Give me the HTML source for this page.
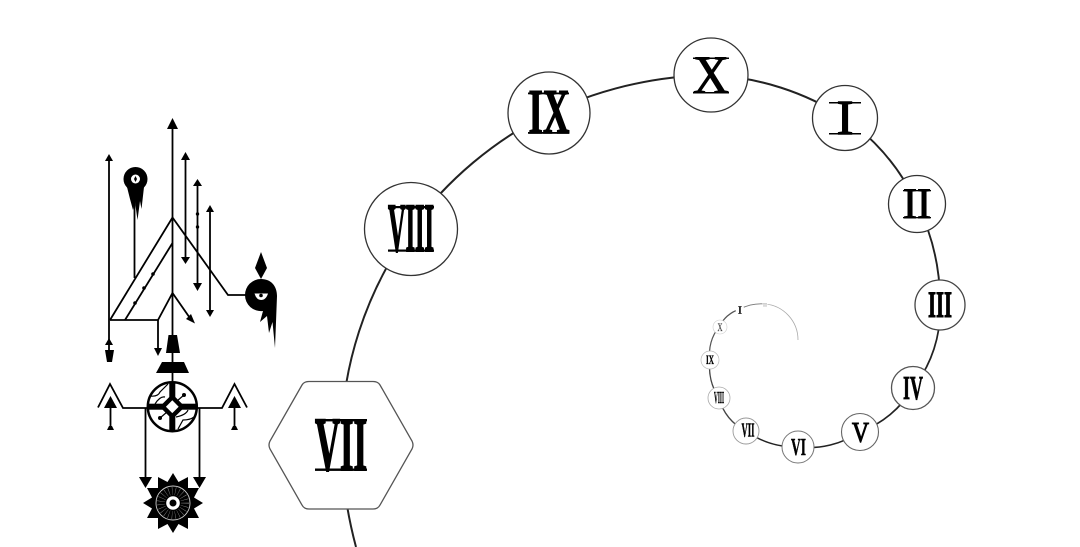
<!DOCTYPE html>
<html>
<head>
<meta charset="utf-8">
<style>
html,body{margin:0;padding:0;background:#fff}
svg{display:block;filter:blur(.35px)}
text{font-family:"Liberation Serif",serif;font-weight:700;text-anchor:middle;fill:#000;stroke:#000}
text.r{font-weight:400}
.n{fill:#fff;stroke:#333;stroke-width:1.3}
.s{fill:none;stroke:#222;stroke-linecap:butt}
.l{fill:none;stroke:#000;stroke-width:1.8}
.b{fill:#000}
</style>
</head>
<body>
<svg width="1080" height="547" viewBox="0 0 1080 547" xmlns="http://www.w3.org/2000/svg">
<rect width="1080" height="547" fill="#fff"/>

<!-- spiral -->
<g class="s">
<path stroke-width="2" d="M356 547 A450 450 0 0 1 341 445 A370 370 0 0 1 411 229"/>
<path stroke-width="2" d="M411 229 A380 380 0 0 1 549 113 A400 400 0 0 1 711 75 A270 270 0 0 1 845 118"/>
<path stroke-width="1.9" d="M845 118 A220 220 0 0 1 917 204 A220 220 0 0 1 940 305"/>
<path stroke-width="1.7" d="M940 305 A125 125 0 0 1 913 388 A105 105 0 0 1 860 432"/>
<path stroke-width="1.5" d="M860 432 A93 93 0 0 1 798 447 A85 85 0 0 1 746 431"/>
<path stroke-width="1.4" stroke="#444" d="M746 431 A50 50 0 0 1 719 398 A55 55 0 0 1 710 360"/>
<path stroke-width="1.2" stroke="#555" d="M710 360 A42 42 0 0 1 719 327 A36 36 0 0 1 740 309"/>
<path stroke-width=".9" stroke="#777" d="M740 309 A46 46 0 0 1 765 304"/>
<path stroke-width=".8" stroke="#aaa" d="M765 304 A36 36 0 0 1 798 340"/>
</g>

<!-- hexagon VII -->
<path class="n" style="stroke:#555" d="M309 381.500 H373 Q378 381.500 380 385 L412 441 Q414 445 412 449 L380 505 Q378 509 373 509 H309 Q304 509 302 505 L270 449 Q268 445 270 441 L302 385 Q304 381.500 309 381.500 Z"/>
<text x="341" y="470" font-size="76" stroke-width="2" textLength="52" lengthAdjust="spacingAndGlyphs">VII</text>
<rect class="b" x="315" y="419" width="52" height="2.400"/><rect class="b" x="315" y="468.500" width="52" height="2.400"/>

<!-- nodes -->
<circle class="n" cx="411" cy="229" r="46.500"/>
<text x="411" y="251" font-size="69" stroke-width="2" textLength="46" lengthAdjust="spacingAndGlyphs">VIII</text>
<rect class="b" x="388" y="206" width="46" height="2.200"/><rect class="b" x="388" y="249.500" width="46" height="2.200"/>

<circle class="n" cx="549" cy="113" r="41"/>
<text x="549" y="133" font-size="63" stroke-width="1.400" textLength="41" lengthAdjust="spacingAndGlyphs">IX</text>
<rect class="b" x="528" y="92.500" width="41" height="1.800"/><rect class="b" x="528" y="132" width="41" height="1.800"/>

<circle class="n" cx="711" cy="75" r="37"/>
<text class="r" x="711" y="93" font-size="54" stroke-width="1" textLength="36" lengthAdjust="spacingAndGlyphs">X</text>
<rect class="b" x="693" y="57.500" width="36" height="1.500"/><rect class="b" x="693" y="92" width="36" height="1.500"/>

<circle class="n" cx="845" cy="118" r="32.500"/>
<text class="r" x="845" y="134" font-size="49" stroke-width="1.500">I</text>
<rect class="b" x="829" y="102" width="32" height="1.500"/><rect class="b" x="829" y="133" width="32" height="1.500"/>

<circle class="n" cx="917" cy="204" r="28.500"/>
<text class="r" x="917" y="218" font-size="43" stroke-width="1.100" textLength="28" lengthAdjust="spacingAndGlyphs">II</text>
<rect class="b" x="903" y="190" width="28" height="1.300"/><rect class="b" x="903" y="217" width="28" height="1.300"/>

<circle class="n" cx="940" cy="305" r="25" style="stroke:#444"/>
<text x="940" y="317" font-size="37" stroke-width="1" textLength="24" lengthAdjust="spacingAndGlyphs">III</text>

<circle class="n" cx="913" cy="388" r="21.500" style="stroke:#555"/>
<text x="913" y="399" font-size="34" stroke-width=".8" textLength="20" lengthAdjust="spacingAndGlyphs">IV</text>

<circle class="n" cx="860" cy="432" r="18.500" style="stroke:#666;stroke-width:1.100"/>
<text class="r" x="860.500" y="442" font-size="29" stroke-width="1.100" textLength="17" lengthAdjust="spacingAndGlyphs">V</text>

<circle class="n" cx="798" cy="447" r="16" style="stroke:#777;stroke-width:1"/>
<text x="798.500" y="455" font-size="24.500" stroke-width=".5" textLength="15" lengthAdjust="spacingAndGlyphs">VI</text>

<circle class="n" cx="746" cy="431" r="13" style="stroke:#999;stroke-width:.9"/>
<text x="748" y="436.500" font-size="20" stroke-width=".5" textLength="13" lengthAdjust="spacingAndGlyphs">VII</text>

<circle class="n" cx="719" cy="398" r="11" style="stroke:#aaa;stroke-width:.8"/>
<text x="719" y="403" font-size="17" stroke-width=".4" textLength="10" lengthAdjust="spacingAndGlyphs">VIII</text>

<circle class="n" cx="710" cy="360" r="9" style="stroke:#bbb;stroke-width:.7"/>
<text x="710" y="364" font-size="12.500" stroke-width=".3" textLength="8" lengthAdjust="spacingAndGlyphs">IX</text>

<circle class="n" cx="720" cy="327" r="7" style="stroke:#ccc;stroke-width:.6"/>
<text class="r" x="720" y="331" font-size="12" stroke-width=".2" textLength="5" lengthAdjust="spacingAndGlyphs" opacity=".8">X</text>

<circle cx="740" cy="309.500" r="4.500" fill="#fff"/>
<text class="r" x="740" y="313.500" font-size="11" stroke-width=".5">I</text>

<circle cx="765" cy="304" r="2.500" fill="#fff"/>
<text class="r" x="765" y="306.500" font-size="5.500" stroke-width="0" textLength="4" lengthAdjust="spacingAndGlyphs" opacity=".5">II</text>

<!-- left figure: lines -->
<g class="l">
<path d="M172.500 125 V381"/>
<path d="M109 158 V350"/>
<path d="M185.500 158 V260"/>
<path d="M197.500 184 V286"/>
<path d="M210 210 V312"/>
<path d="M110 320 L172.500 217.500 L228 295 H250"/>
<path d="M125 320 L172.500 243"/>
<path d="M110 320 H158 L172.500 293 L192 321"/>
<path d="M158 320 V350"/>
<path d="M134.500 195 V278"/>
</g>
<g class="b">
<polygon points="172.500,118 178,129 167,129"/>
<polygon points="109,154 113,161 105,161"/>
<polygon points="185.500,152 190,160 181,160"/>
<polygon points="185.500,264 181,257 190,257"/>
<polygon points="197.500,179 202,186 193,186"/>
<polygon points="197.500,291 193,283 202,283"/>
<polygon points="210,205 214,212 206,212"/>
<polygon points="210,317 206,310 214,310"/>
<circle cx="197.500" cy="214" r="1.700"/><circle cx="197.500" cy="227" r="1.700"/>
<circle cx="153" cy="274" r="1.800"/><circle cx="144" cy="288" r="1.800"/><circle cx="135" cy="303" r="1.800"/>
<polygon points="195,323.500 186,319 191,314"/>
<polygon points="158,356 154,348 162,348"/>
<polygon points="109,338 113,345 105,345"/>
<polygon points="105,350 114,350 112,362 107,362"/>
<polygon points="168.500,335 177,335 180,353 166,353"/>
<polygon points="162,362 184,362 189,373 156,373"/>

<!-- pin -->
<circle cx="135.500" cy="179" r="12"/>
<path d="M127 187 L130 199 L133 210 L135 202 L137.500 220 L140 201 L141.500 209 L144 187 Z"/>

<!-- creature -->
<polygon points="261,252 267,268 261,279 255,268"/>
<path d="M245 295 A16 16 0 0 1 261 279 C271 279 277 286 277 296 L275 348 L272.500 322 L269 333 L267 316 L260 322 L263 311 A16 16 0 0 1 245 295 Z"/>
</g>
<path d="M254.500 293.500 H268 Q266 300 261 300 Q256.500 300 254.500 293.500 Z" fill="#fff"/>
<circle cx="261" cy="295.500" r="1.800" fill="#000"/>
<circle cx="135.500" cy="179" r="4.500" fill="#fff"/>
<path d="M135.500 176 L137 179 L135.500 182 L134 179 Z" fill="#000"/>

<!-- wheel -->
<circle cx="172.300" cy="406.700" r="24.500" fill="#fff" stroke="#000" stroke-width="2.500"/>
<g class="b">
<rect x="169.300" y="382" width="6" height="49"/>
<rect x="148" y="403.700" width="49" height="6"/>
<polygon points="172.300,394 185,406.700 172.300,419.400 159.600,406.700"/>
<circle cx="184" cy="395" r="2"/><circle cx="160" cy="418" r="2"/>
</g>
<polygon points="172.300,400.300 178.700,406.700 172.300,413.100 165.900,406.700" fill="#fff"/>
<g fill="none" stroke="#000" stroke-width="1.200">
<path d="M150 396 Q158 397 160 392 L168 384"/>
<path d="M155 404 Q160 396 165 397"/>
<path d="M176 417 Q186 415 188 410"/>
<path d="M178 429 L183 420 Q190 420 194 417"/>
<path d="M184 395 L177 401"/>
<path d="M160 418 L167 412"/>
</g>

<!-- chevrons & arrows -->
<g class="l">
<path d="M98 407.500 L110 384 L123 408 H148"/>
<path d="M247 407.500 L234.500 384 L222 408 H197"/>
<path d="M110.500 405 V428"/>
<path d="M234.500 405 V428"/>
<path d="M145.500 408 V480"/>
<path d="M199.500 408 V480"/>
</g>
<g class="b">
<polygon points="110.500,396 117,408 104,408"/>
<polygon points="234.500,396 241,408 228,408"/>
<polygon points="109,426 112,426 114,430 107,430"/>
<polygon points="233,426 236,426 238,430 231,430"/>
<polygon points="139,477 152,477 145.500,488"/>
<polygon points="193,477 206,477 199.500,488"/>
</g>

<!-- gear -->
<g transform="translate(173,503)">
<circle r="21" fill="#000"/>
<polygon class="b" points="0,-30 5.500,-21 15,-26 15,-15 26,-15 21,-5.500 30,0 21,5.500 26,15 15,15 15,26 5.500,21 0,30 -5.500,21 -15,26 -15,15 -26,15 -21,5.500 -30,0 -21,-5.500 -26,-15 -15,-15 -15,-26 -5.500,-21"/>
<circle r="17" fill="none" stroke="#ccc" stroke-width=".9"/>
<circle r="12" fill="none" stroke="#999" stroke-width="8" stroke-dasharray=".35 2.900"/>
<circle r="6.800" fill="#fff"/>
<circle r="3.500" fill="#000"/>
</g>
</svg>
</body>
</html>
